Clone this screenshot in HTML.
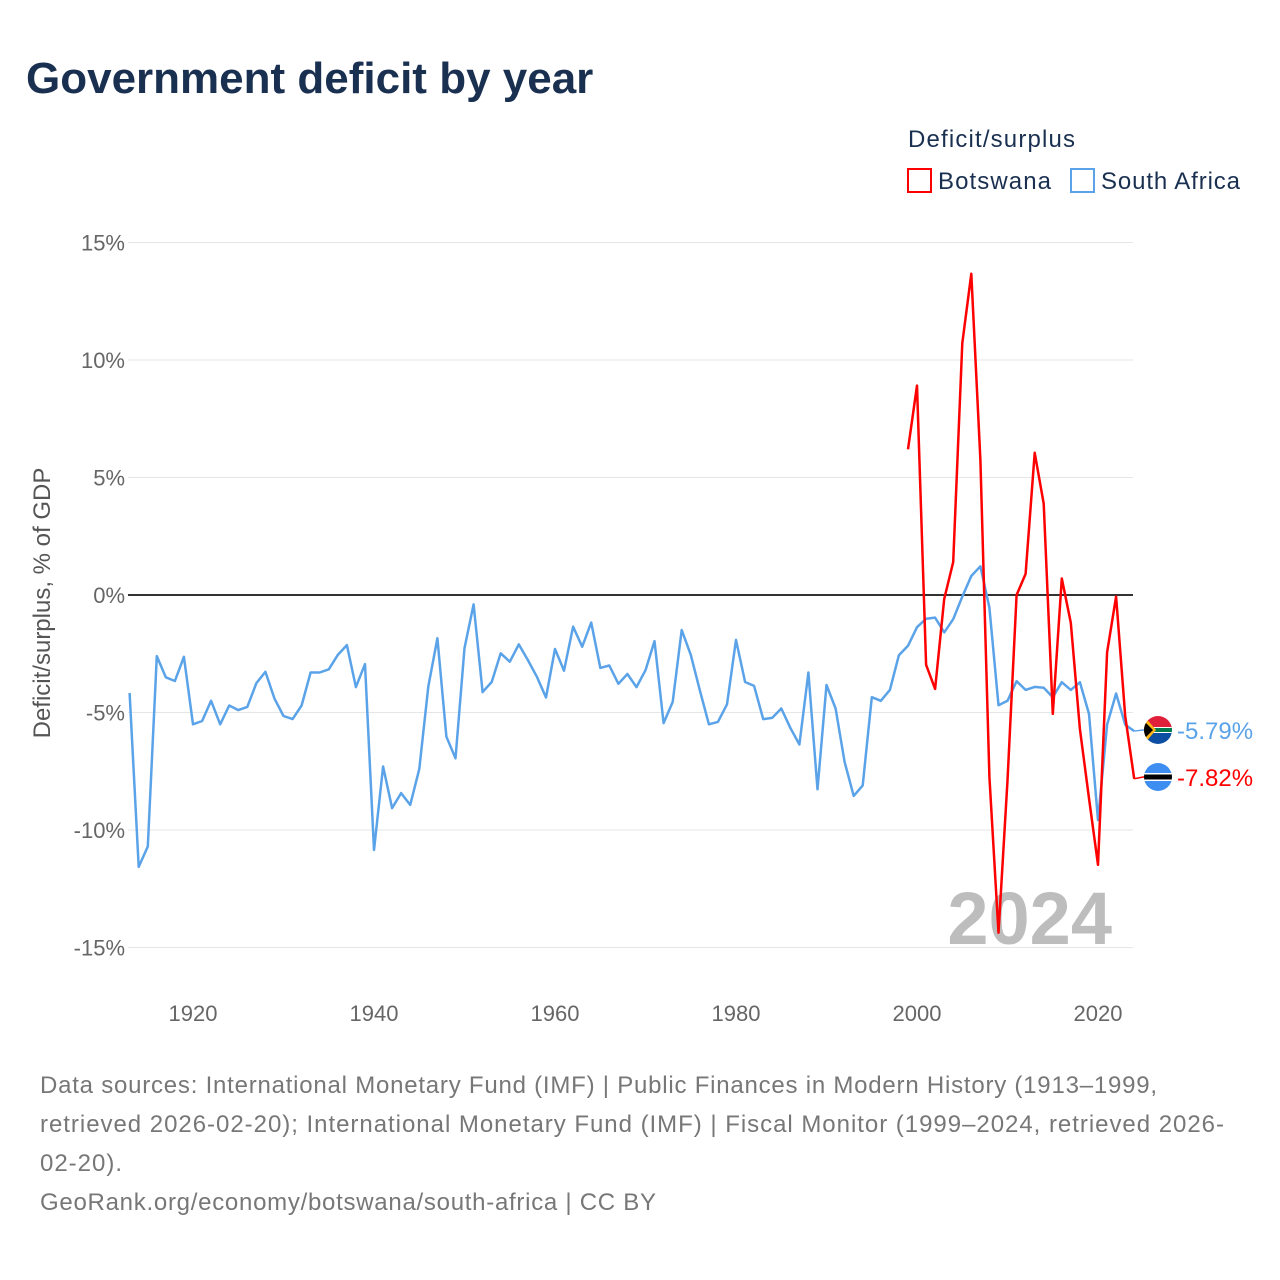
<!DOCTYPE html>
<html><head><meta charset="utf-8"><style>
body{margin:0;background:#fff;}
svg{display:block;font-family:"Liberation Sans",sans-serif;}
</style></head><body>
<svg width="1280" height="1280" viewBox="0 0 1280 1280">
<text x="26" y="93" font-size="44" font-weight="bold" fill="#1a3050">Government deficit by year</text>
<text x="908" y="147" font-size="24" fill="#1a3050" textLength="167">Deficit/surplus</text>
<g><rect x="908" y="169" width="23" height="23" fill="none" stroke="#ff0000" stroke-width="2"/><text x="938" y="189" font-size="24" fill="#1a3050" textLength="113">Botswana</text></g>
<g><rect x="1071" y="169" width="23" height="23" fill="none" stroke="#5ba3e8" stroke-width="2"/><text x="1101" y="189" font-size="24" fill="#1a3050" textLength="139">South Africa</text></g>
<g id="grid"></g>
<g id="yt"></g>
<g id="xt"></g>
<text transform="translate(50,603) rotate(-90)" text-anchor="middle" font-size="24" fill="#555">Deficit/surplus, % of GDP</text>
<text x="1112" y="944" text-anchor="end" font-size="74" font-weight="bold" fill="#bdbdbd">2024</text>
<g id="series"></g>
<g id="ends"></g>
<g font-size="24" fill="#777">
<text x="40" y="1093" textLength="1117">Data sources: International Monetary Fund (IMF) | Public Finances in Modern History (1913–1999,</text>
<text x="40" y="1132" textLength="1184">retrieved 2026-02-20); International Monetary Fund (IMF) | Fiscal Monitor (1999–2024, retrieved 2026-</text>
<text x="40" y="1171" textLength="82">02-20).</text>
<text x="40" y="1210" textLength="616">GeoRank.org/economy/botswana/south-africa | CC BY</text>
</g>
</svg>
<script>
const saStart = 1913;
const saValues = [-4.17,-11.57,-10.7,-2.6,-3.5,-3.66,-2.63,-5.5,-5.36,-4.5,-5.5,-4.7,-4.9,-4.76,-3.75,-3.27,-4.4,-5.15,-5.28,-4.7,-3.3,-3.3,-3.16,-2.55,-2.13,-3.92,-2.94,-10.85,-7.3,-9.07,-8.43,-8.93,-7.4,-3.9,-1.84,-6.03,-6.95,-2.26,-0.4,-4.13,-3.7,-2.48,-2.84,-2.1,-2.77,-3.48,-4.36,-2.3,-3.22,-1.35,-2.2,-1.17,-3.1,-3.0,-3.78,-3.36,-3.92,-3.2,-1.96,-5.45,-4.55,-1.49,-2.55,-4.05,-5.5,-5.4,-4.65,-1.91,-3.7,-3.87,-5.28,-5.23,-4.83,-5.65,-6.36,-3.3,-8.27,-3.83,-4.83,-7.1,-8.55,-8.1,-4.35,-4.5,-4.04,-2.56,-2.16,-1.37,-1.01,-0.96,-1.59,-1.03,-0.07,0.81,1.22,-0.54,-4.69,-4.5,-3.67,-4.04,-3.91,-3.95,-4.35,-3.71,-4.04,-3.71,-5.06,-9.58,-5.52,-4.19,-5.52,-5.79];
const bwStart = 1999;
const bwValues = [6.2,8.91,-2.97,-4.0,-0.17,1.4,10.72,13.67,5.74,-7.73,-14.37,-7.9,0,0.9,6.05,3.89,-5.06,0.7,-1.18,-5.7,-8.65,-11.48,-2.44,-0.07,-5.15,-7.82];
const yTicks = [15,10,5,0,-5,-10,-15];
const xTicks = [1920,1940,1960,1980,2000,2020];
const NS='http://www.w3.org/2000/svg';
const X = yr => 193 + (yr-1920)*9.05;
const Y = v => 595 - v*23.5;
function mk(tag, attrs, parent){const e=document.createElementNS(NS,tag);for(const k in attrs)e.setAttribute(k,attrs[k]);parent.appendChild(e);return e;}
const grid=document.getElementById('grid'), yt=document.getElementById('yt'), xt=document.getElementById('xt');
yTicks.forEach(t=>{
  const l=mk('line',{x1:128,x2:1133,y1:Y(t),y2:Y(t),stroke:t===0?'#333':'#e6e6e6','stroke-width':t===0?2:1},grid);
  
  
  const tx=mk('text',{x:125,y:Y(t)+8,'text-anchor':'end','font-size':22,fill:'#666'},yt);
  tx.textContent=t+'%';
  
  
});
xTicks.forEach(t=>{
  const tx=mk('text',{x:X(t),y:1021,'text-anchor':'middle','font-size':22,fill:'#666'},xt);
  tx.textContent=t;
  
  
});
const series=document.getElementById('series');
function line(start, vals, color, name){
  const pts=vals.map((v,i)=>X(start+i).toFixed(1)+','+Y(v).toFixed(1)).join(' ');
  const p=mk('polyline',{points:pts,fill:'none',stroke:color,'stroke-width':2.5,'stroke-linejoin':'round'},series);
  
  
}
line(saStart, saValues, '#5ba3e8', 'south-africa-line');
line(bwStart, bwValues, '#ff0000', 'botswana-line');
const ends=document.getElementById('ends');
function endLabel(val, color, yPos, flag, name){
  const lx=X(2024);
  mk('polyline',{points:`${lx},${Y(val)} ${lx+9},${yPos} ${lx+12},${yPos}`,fill:'none',stroke:color,'stroke-width':1.5},ends);
  const g=mk('g',{},ends);
  
  
  const cx=1158, r=14;
  const cp='cp'+name; const d=mk('clipPath',{id:cp},g); mk('circle',{cx:cx,cy:yPos,r:r},d);
  const f=mk('g',{'clip-path':`url(#${cp})`},g);
  if(flag==='za'){
    mk('rect',{x:cx-r,y:yPos-r,width:2*r,height:r,fill:'#e0203a'},f);
    mk('rect',{x:cx-r,y:yPos,width:2*r,height:r,fill:'#0b4ea2'},f);
    mk('rect',{x:cx-r,y:yPos-3,width:2*r,height:6,fill:'#fff'},f);
    mk('rect',{x:cx-r,y:yPos-2,width:2*r,height:4,fill:'#007a4d'},f);
    mk('polygon',{points:`${cx-r},${yPos-r} ${cx-2},${yPos} ${cx-r},${yPos+r}`,fill:'#ffb612'},f);
    mk('polygon',{points:`${cx-r},${yPos-9} ${cx-5},${yPos} ${cx-r},${yPos+9}`,fill:'#000'},f);
  } else {
    mk('rect',{x:cx-r,y:yPos-r,width:2*r,height:2*r,fill:'#3d8ef0'},f);
    mk('rect',{x:cx-r,y:yPos-4,width:2*r,height:8,fill:'#fff'},f);
    mk('rect',{x:cx-r,y:yPos-2.5,width:2*r,height:5,fill:'#000'},f);
  }
  const t=mk('text',{x:1177,y:yPos+9,'font-size':24,fill:color},g);
  t.textContent=val.toFixed(2)+'%';
}
endLabel(saValues[saValues.length-1], '#5ba3e8', 730, 'za', 'south-africa-end-label');
endLabel(bwValues[bwValues.length-1], '#ff0000', 777, 'bw', 'botswana-end-label');
</script>
</body></html>
